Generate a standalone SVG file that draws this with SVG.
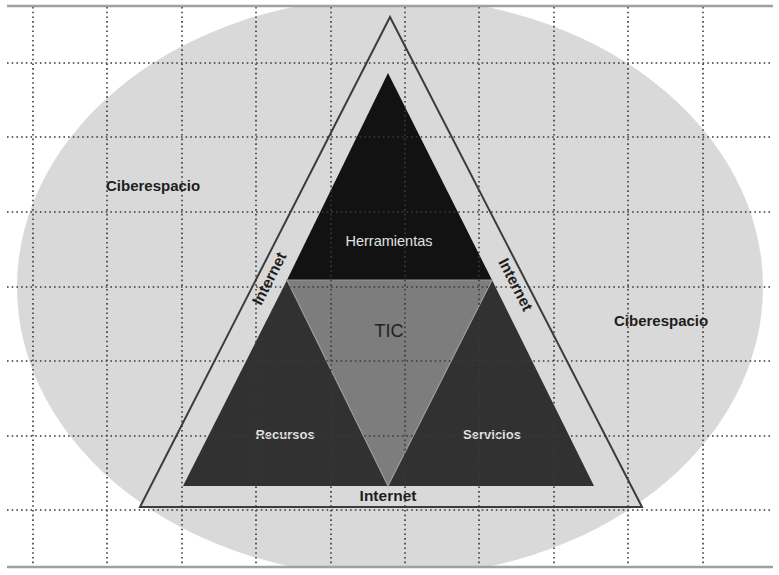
<svg xmlns="http://www.w3.org/2000/svg" width="779" height="575" viewBox="0 0 779 575">
<style>
.grid line{stroke:#3a3a3a;stroke-width:1.6;stroke-dasharray:1.6 3.1}
.rule{stroke:#a0a0a0;stroke-width:2.5}
.lbl{font-family:"Liberation Sans",Arial,sans-serif;font-weight:bold;fill:#1e1e1e}
.inner{font-family:"Liberation Sans",Arial,sans-serif;fill:#e2e2e2;text-anchor:middle}
</style>
<rect width="779" height="575" fill="#ffffff"/>
<g id="cyberspace">
<ellipse cx="390" cy="287" rx="373" ry="290" fill="#d9d9d9"/>
</g>
<rect x="0" y="0" width="779" height="6" fill="#ffffff"/>
<rect x="0" y="568" width="779" height="7" fill="#ffffff"/>
<g id="internet">
<polygon points="390,17 140,507 642,507" fill="#d9d9d9" stroke="#3c3c3c" stroke-width="2" stroke-linejoin="miter"/>
</g>
<g id="herramientas">
<polygon points="388,73 287,280 492,280" fill="#121212"/>
<text class="inner" x="389" y="246" font-size="14.5">Herramientas</text>
</g>
<g id="recursos">
<polygon points="287,280 183,486 388,486" fill="#313131"/>
<text class="inner" x="285" y="439" font-size="13" font-weight="bold">Recursos</text>
</g>
<g id="servicios">
<polygon points="492,280 388,486 594,486" fill="#313131"/>
<text class="inner" x="492" y="439" font-size="13" font-weight="bold">Servicios</text>
</g>
<g id="tic">
<polygon points="287,280 492,280 388,486" fill="#7d7d7d" stroke="#9a9a9a" stroke-width="1.2"/>
<text x="389" y="337" font-family="Liberation Sans,Arial,sans-serif" font-size="18" fill="#222" text-anchor="middle">TIC</text>
</g>
<g class="grid">
<line x1="7" y1="63" x2="773" y2="63"/>
<line x1="7" y1="137" x2="773" y2="137"/>
<line x1="7" y1="212" x2="773" y2="212"/>
<line x1="7" y1="287" x2="773" y2="287"/>
<line x1="7" y1="361" x2="773" y2="361"/>
<line x1="7" y1="436" x2="773" y2="436"/>
<line x1="7" y1="510" x2="773" y2="510"/>
<line x1="33" y1="7" x2="33" y2="566"/>
<line x1="107" y1="7" x2="107" y2="566"/>
<line x1="182" y1="7" x2="182" y2="566"/>
<line x1="256" y1="7" x2="256" y2="566"/>
<line x1="331" y1="7" x2="331" y2="566"/>
<line x1="405" y1="7" x2="405" y2="566"/>
<line x1="479" y1="7" x2="479" y2="566"/>
<line x1="554" y1="7" x2="554" y2="566"/>
<line x1="628" y1="7" x2="628" y2="566"/>
<line x1="703" y1="7" x2="703" y2="566"/>
</g>
<line class="rule" x1="7" y1="6" x2="773" y2="6"/>
<line class="rule" x1="7" y1="567" x2="773" y2="567"/>
<text class="lbl" x="106" y="191" font-size="15">Ciberespacio</text>
<text class="lbl" x="614" y="326" font-size="15">Ciberespacio</text>
<text class="lbl" x="388" y="501" font-size="15.5" text-anchor="middle">Internet</text>
<text class="lbl" font-size="15.5" text-anchor="middle" transform="translate(274,281) rotate(-63)">Internet</text>
<text class="lbl" font-size="15.5" text-anchor="middle" transform="translate(511,287) rotate(63)">Internet</text>
</svg>
